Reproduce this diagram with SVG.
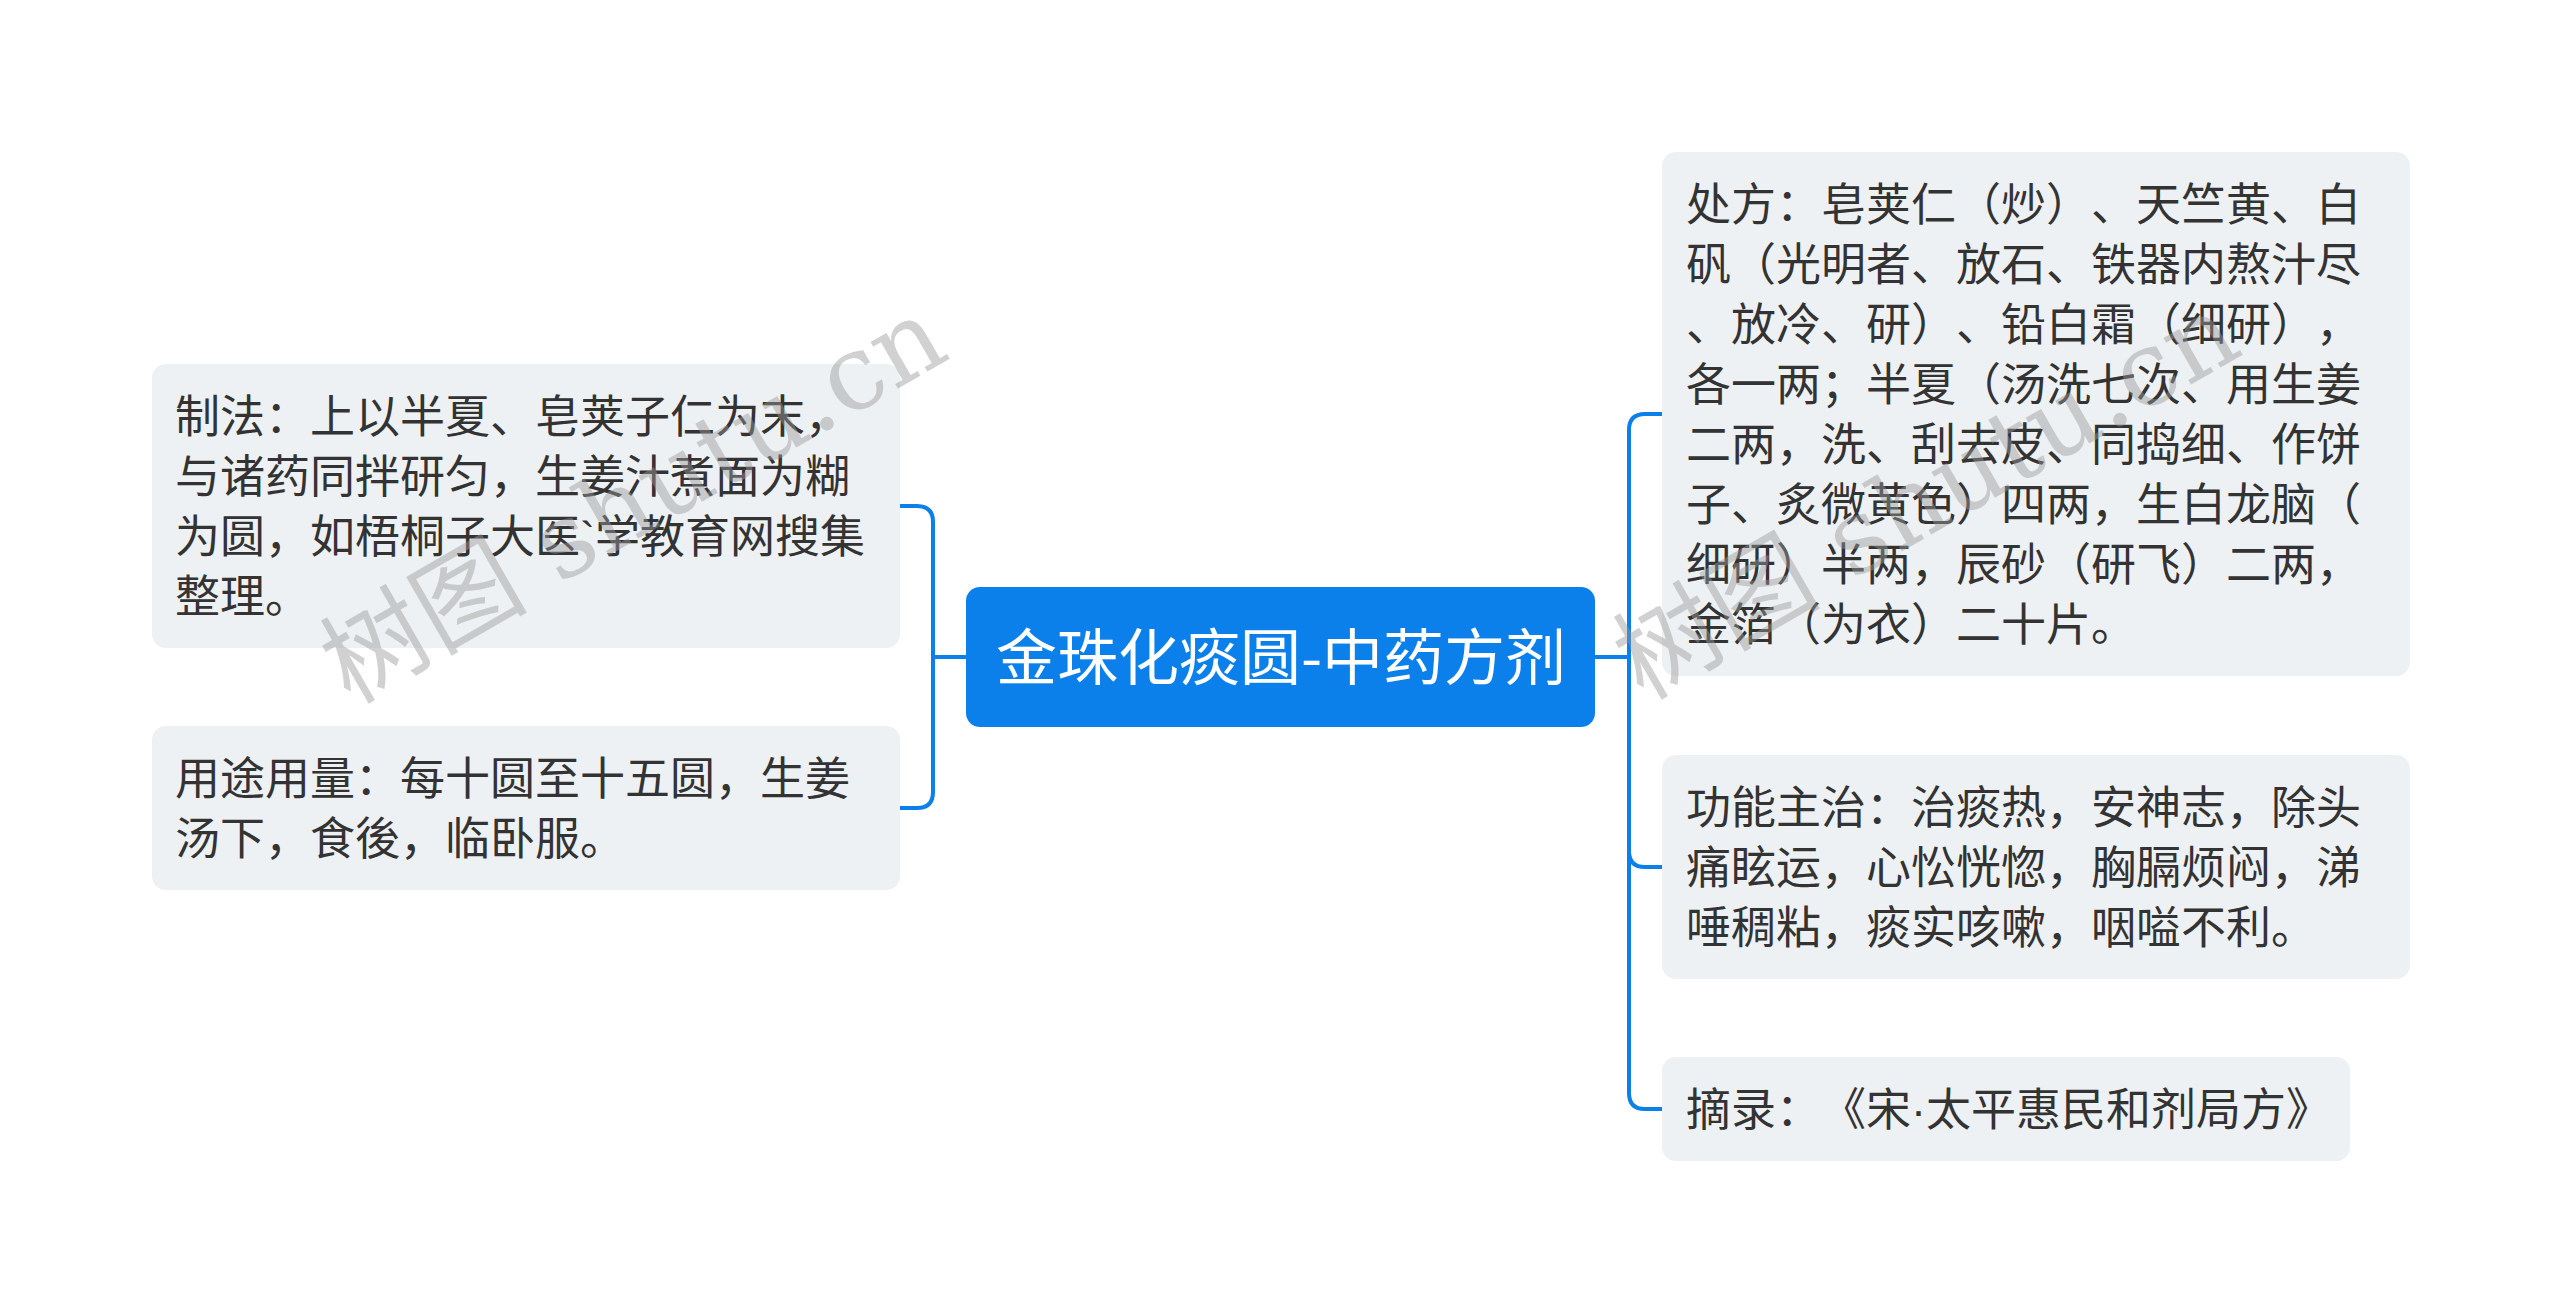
<svg xmlns="http://www.w3.org/2000/svg" width="2560" height="1312" viewBox="0 0 2560 1312">
<style>
.node{fill:#eef1f4;}
.root{fill:#0c80ea;}
.t{font-family:"Noto Sans CJK SC","Noto Sans",sans-serif;font-size:45px;fill:#333333;text-spacing-trim:space-all;font-kerning:none;}
.rt{font-family:"Noto Sans CJK SC","Noto Sans",sans-serif;font-size:61px;fill:#ffffff;text-anchor:middle;}
.c{fill:none;stroke:#0c80ea;stroke-width:4;stroke-linecap:round;}
.wm{font-family:"DejaVu Serif","Noto Sans CJK SC",serif;font-size:104px;fill:#9a9a9a;fill-opacity:0.45;}
.dot{font-family:"Liberation Sans",sans-serif;}
</style>
<rect width="2560" height="1312" fill="#ffffff"/>
<g id="connectors">
<path class="c" d="M966,657 H933"/>
<path class="c" d="M933,657 V522 Q933,506 917,506 H900"/>
<path class="c" d="M933,657 V792 Q933,808 917,808 H900"/>
<path class="c" d="M1595,657 H1629"/>
<path class="c" d="M1629,657 V430 Q1629,414 1645,414 H1662"/>
<path class="c" d="M1629,657 V851 Q1629,867 1645,867 H1662"/>
<path class="c" d="M1629,657 V1093 Q1629,1109 1645,1109 H1662"/>
</g>
<g id="root">
<rect class="root" x="966" y="587" width="629" height="140" rx="14"/>
<text class="rt" x="1281" y="680">金珠化痰圆-中药方剂</text>
</g>
<g id="node-zhifa">
<rect class="node" x="152" y="364" width="748" height="284" rx="14"/>
<text class="t" x="175" y="433">制法：上以半夏、皂荚子仁为末，</text>
<text class="t" x="175" y="493">与诸药同拌研匀，生姜汁煮面为糊</text>
<text class="t" x="175" y="553">为圆，如梧桐子大医<tspan class="dot">`</tspan>学教育网搜集</text>
<text class="t" x="175" y="613">整理。</text>
</g>
<g id="node-yongtu">
<rect class="node" x="152" y="726" width="748" height="164" rx="14"/>
<text class="t" x="175" y="795">用途用量：每十圆至十五圆，生姜</text>
<text class="t" x="175" y="855">汤下，食後，临卧服。</text>
</g>
<g id="node-chufang">
<rect class="node" x="1662" y="152" width="748" height="524" rx="14"/>
<text class="t" x="1686" y="221">处方：皂荚仁（炒）、天竺黄、白</text>
<text class="t" x="1686" y="281">矾（光明者、放石、铁器内熬汁尽</text>
<text class="t" x="1686" y="341">、放冷、研）、铅白霜（细研），</text>
<text class="t" x="1686" y="401">各一两；半夏（汤洗七次、用生姜</text>
<text class="t" x="1686" y="461">二两，洗、刮去皮、同捣细、作饼</text>
<text class="t" x="1686" y="521">子、炙微黄色）四两，生白龙脑（</text>
<text class="t" x="1686" y="581">细研）半两，辰砂（研飞）二两，</text>
<text class="t" x="1686" y="641">金箔（为衣）二十片。</text>
</g>
<g id="node-gongneng">
<rect class="node" x="1662" y="755" width="748" height="224" rx="14"/>
<text class="t" x="1686" y="824">功能主治：治痰热，安神志，除头</text>
<text class="t" x="1686" y="884">痛眩运，心忪恍惚，胸膈烦闷，涕</text>
<text class="t" x="1686" y="944">唾稠粘，痰实咳嗽，咽嗌不利。</text>
</g>
<g id="node-zhailu">
<rect class="node" x="1662" y="1057" width="688" height="104" rx="14"/>
<text class="t" x="1686" y="1126">摘录：《宋<tspan class="dot">·</tspan>太平惠民和剂局方》</text>
</g>
<g id="watermarks">
<text class="wm" transform="translate(350,705) rotate(-30)">树图 shutu.cn</text>
<text class="wm" transform="translate(1643,701) rotate(-30)">树图 shutu.cn</text>
</g>
</svg>
